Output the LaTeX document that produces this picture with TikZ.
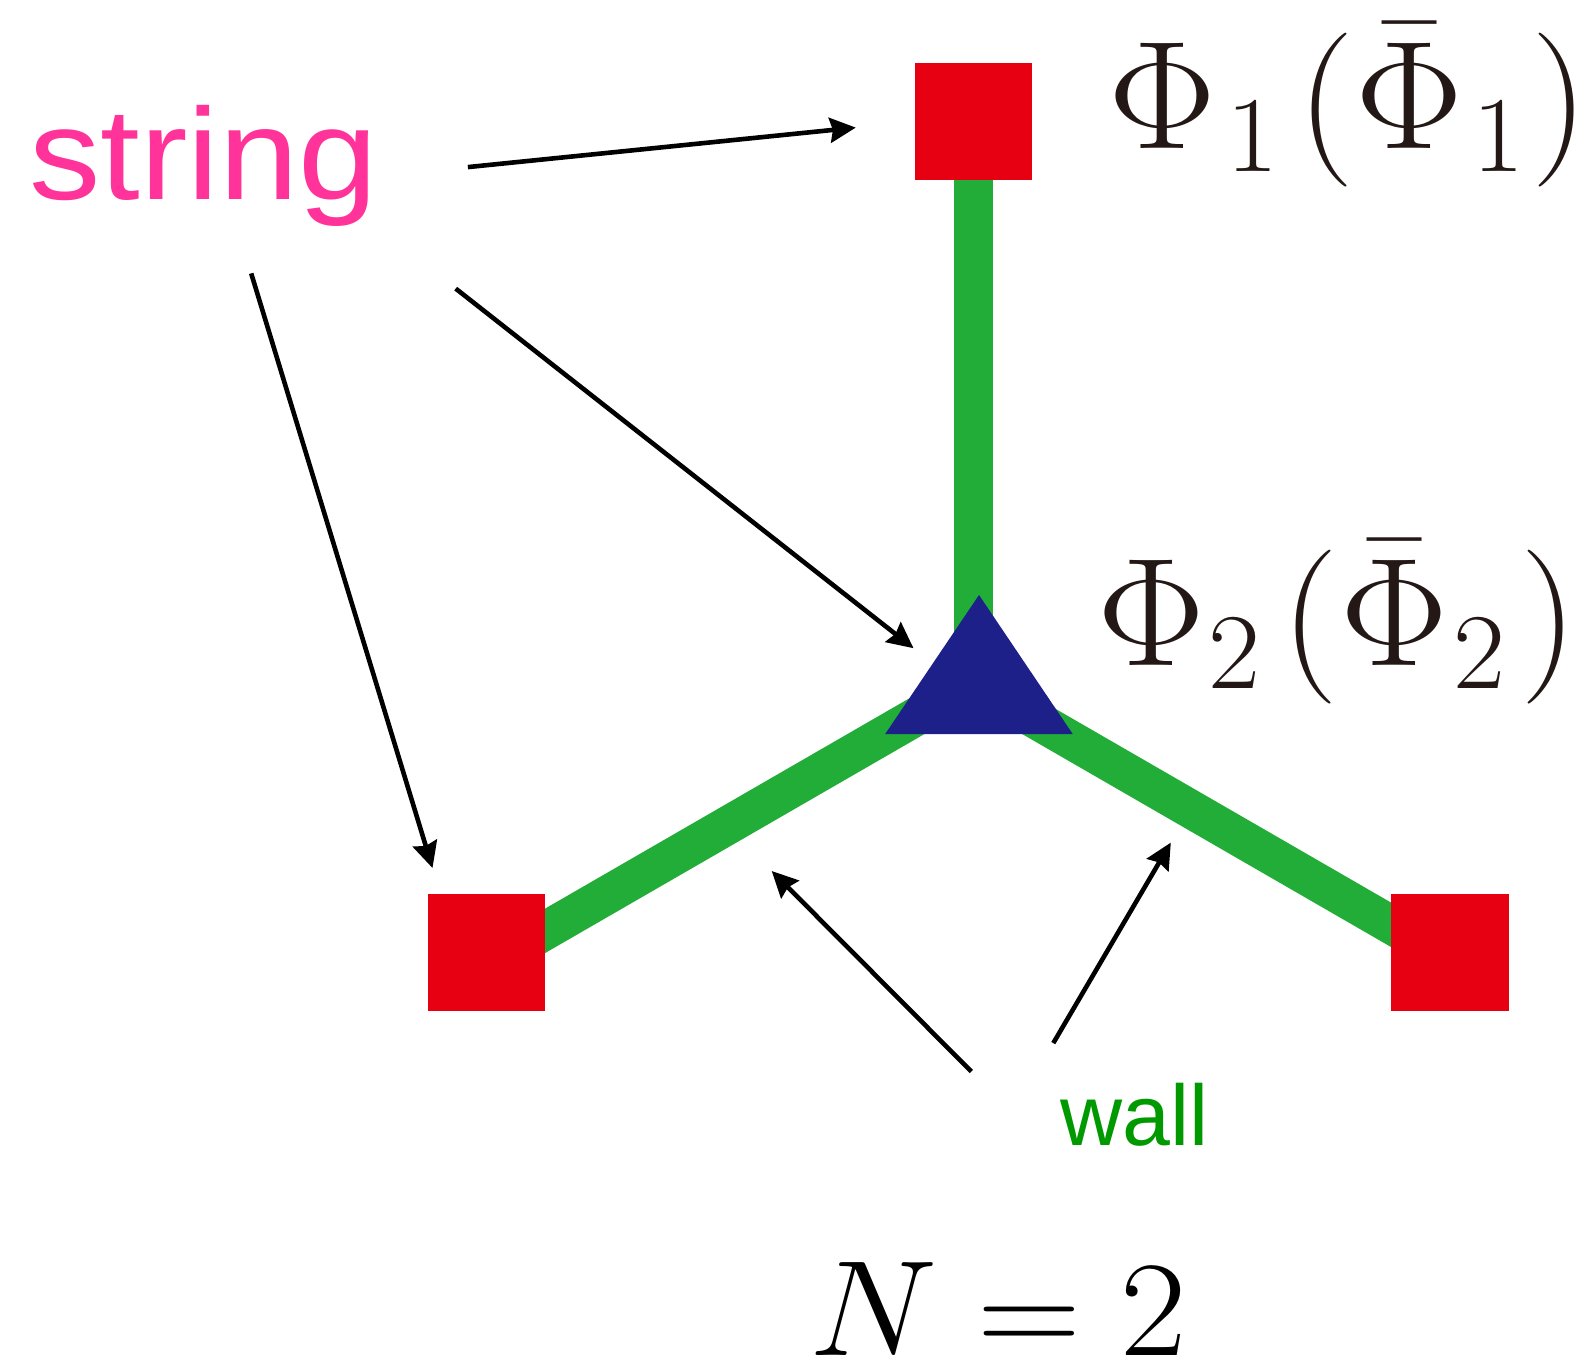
\documentclass[tikz,border=0pt]{standalone}
\usepackage{fix-cm}
\usepackage[no-math]{fontspec}
\newfontfamily\labelfont{Liberation Sans}
\usepackage{graphicx}
\usepackage{xcolor}
\usepackage{tikz}
\usetikzlibrary{arrows.meta, positioning, calc}
\definecolor{sitered}{HTML}{E60012}
\definecolor{wallgreen}{HTML}{22AC38}
\definecolor{vertexblue}{HTML}{1D2088}
\definecolor{stringpink}{HTML}{FF3399}
\definecolor{labelgreen}{HTML}{009900}
\definecolor{inkblack}{HTML}{231815}
\tikzstyle{site} = [rectangle, minimum size=117.5pt, inner sep=0pt, fill=sitered]
\tikzstyle{wallline} = [line width=38.5pt, draw=wallgreen]
\tikzstyle{fieldlabel} = [anchor=base west, inner sep=0pt, text=inkblack, font=\fontsize{154}{160}\selectfont]
\tikzstyle{arrow} = [line width=4.6pt, -{Stealth[length=26pt, width=25pt, inset=3pt]}]

\begin{document}
\begin{tikzpicture}[x=1pt, y=-1pt]
    \useasboundingbox (0,0) rectangle (1588,1364);
    % walls
    \coordinate (junction) at (973.3,683.6);
    \draw [wallline] (973.3,121.5) -- (junction);
    \draw [wallline] (junction) -- (486.6,964.6);
    \draw [wallline] (junction) -- (1460,964.6);
    % sites
    \node (sqtop) [site] at (973.3,121.5) {};
    \node (sqleft) [site] at (486.6,952.5) {};
    \node (sqright) [site] at (1449.8,952.5) {};
    \fill [vertexblue] (979,595) -- (1072.7,734) -- (885.2,734) -- cycle;
    \coordinate (vertex) at (979,690);
    % labels
    \node (phione) [fieldlabel] at (1108,148.9)
        {\scalebox{1.05}[1]{$\Phi_{\kern10pt 1}\kern18pt(\bar{\Phi}_{\kern9pt 1}\kern6pt)$}};
    \node (phitwo) [fieldlabel] at (1097.6,665.4)
        {\scalebox{1.05}[1]{$\Phi_{\kern3pt 2}\kern19pt(\kern2pt\bar{\Phi}_{\kern5pt 2}\kern14pt)$}};
    \node (string) [anchor=base west, inner sep=0pt, text=stringpink, font=\labelfont\fontsize{130}{135}\selectfont] at (29,199.5)
        {\scalebox{1.097}[1]{string}};
    \node (wall) [anchor=base west, inner sep=0pt, text=labelgreen, font=\labelfont\fontsize{86}{90}\selectfont] at (1060,1145.5) {wall};
    \node (nlabel) [anchor=base west, inner sep=0pt, font=\fontsize{136}{140}\selectfont] at (809,1355)
        {\scalebox{1.06}[1]{$N=2$}};
    % arrows
    \coordinate (s1) at (467.9,167.1);
    \coordinate (s2) at (455.7,288.6);
    \coordinate (s3) at (251.2,273.4);
    \coordinate (w1) at (971.3,1071.5);
    \coordinate (w2) at (1053.3,1043.1);
    \coordinate (t1) at (855.8,127.6);
    \coordinate (t2) at (913.5,648.2);
    \coordinate (t3) at (432.5,868);
    \coordinate (t4) at (771.7,871);
    \coordinate (t5) at (1170.8,842.6);
    \draw [arrow] (s1) -- (t1);
    \draw [arrow] (s2) -- (t2);
    \draw [arrow] (s3) -- (t3);
    \draw [arrow] (w1) -- (t4);
    \draw [arrow] (w2) -- (t5);
\end{tikzpicture}
\end{document}
